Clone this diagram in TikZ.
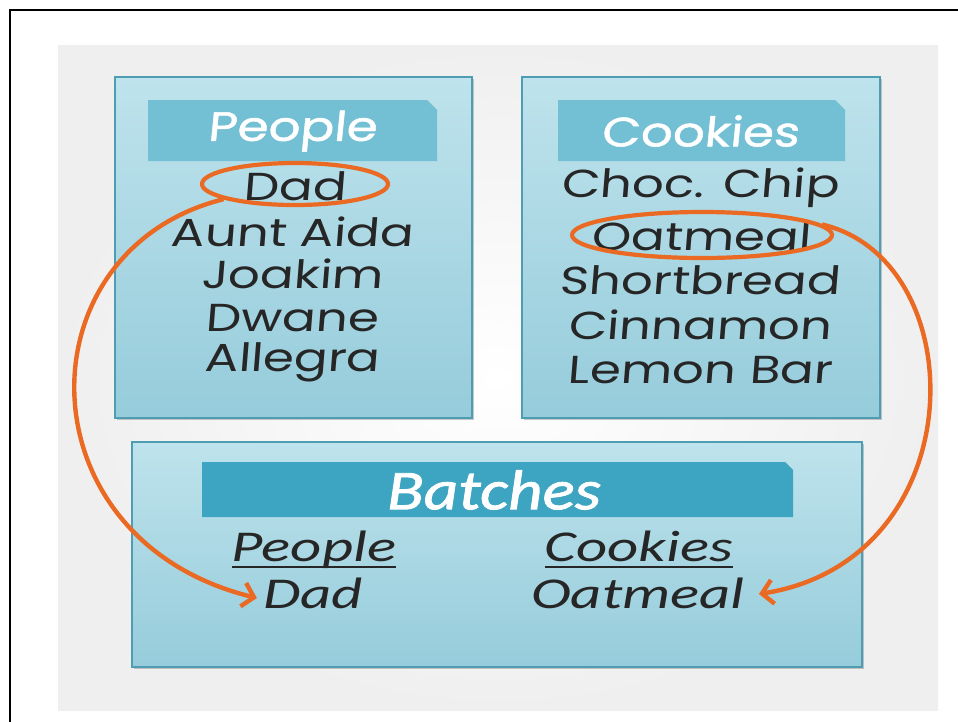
\documentclass[tikz,border=0pt]{standalone}
\usepackage{fontspec}
\setmainfont{Poppins}
\newfontfamily\hand[FakeStretch=1.28,FakeSlant=0.08]{Poppins}
\newfontfamily\handb[FakeStretch=1.22,FakeSlant=0.1,FakeBold=1.2]{Poppins}
\newfontfamily\sketch[FakeStretch=1.38]{Carlito}
\newfontfamily\sketchb[FakeStretch=1.2,FakeBold=1.5]{Carlito}
\usetikzlibrary{shapes.geometric,arrows.meta,shadows}
\definecolor{bgray}{HTML}{EFEFEF}
\definecolor{boxtop}{HTML}{BEE3EC}
\definecolor{boxbot}{HTML}{96CCDB}
\definecolor{boxline}{HTML}{4F9DB3}
\definecolor{hdrtop}{HTML}{73BFD4}
\definecolor{hdrbat}{HTML}{3DA4C1}
\definecolor{orng}{HTML}{EA6A23}
\definecolor{ink}{HTML}{262626}
\tikzset{
  panel/.style={draw=boxline, line width=1.2pt, top color=boxtop, bottom color=boxbot,
    drop shadow={shadow xshift=2pt, shadow yshift=-2pt, opacity=0.35, fill=black!60}},
  listtxt/.style={text=ink, font=\hand\fontsize{39}{39}\selectfont, inner sep=0pt},
  hdrtxt/.style={text=white, font=\handb\fontsize{41}{41}\selectfont, inner sep=0pt},
  battxt/.style={text=ink, font=\sketch\itshape\fontsize{44}{44}\selectfont, inner sep=0pt, anchor=base},
  uline/.style={draw=ink, line width=1.8pt},
  ring/.style={draw=orng, line width=4.2pt, ellipse, inner sep=0pt},
  link/.style={draw=orng, line width=4.4pt, -{Straight Barb[length=11pt,width=24pt,line width=4.4pt]}}
}
\begin{document}
\begin{tikzpicture}[x=1pt,y=-1pt]
\useasboundingbox (0,0) rectangle (958,721);
\fill[white] (0,0) rectangle (958,721);
% background
\shade[inner color=white, outer color=bgray] (58,45) rectangle (938,710);
% outer frame
\draw[black, line width=2.2pt] (10,725) -- (10,10) -- (962,10);
% panels
\path[panel] (115,77) rectangle (472,418);
\path[panel] (522,77) rectangle (880,418);
\path[panel] (132,442) rectangle (862,667);
% header bars with clipped corner
\fill[hdrtop] (148,100) -- (427,100) -- (437,110) -- (437,161) -- (148,161) -- cycle;
\fill[hdrtop] (558,100) -- (835,100) -- (845,110) -- (845,161) -- (558,161) -- cycle;
\fill[hdrbat] (202,462) -- (785,462) -- (793,470) -- (793,517) -- (202,517) -- cycle;
% header texts
\node[hdrtxt] (hpeople) at (292,131) {People};
\node[hdrtxt] (hcookies) at (700,131) {Cookies};
\node[text=white, font=\sketchb\itshape\fontsize{56}{56}\selectfont, inner sep=0pt] (hbatches) at (494,490) {Batches};
% people list
\node[listtxt] (pdad) at (295,186) {Dad};
\node[listtxt] (paida) at (292,232) {Aunt Aida};
\node[listtxt] (pjoakim) at (292,274) {Joakim};
\node[listtxt] (pdwane) at (292,318) {Dwane};
\node[listtxt] (pallegra) at (292,362) {Allegra};
% cookies list
\node[listtxt] (cchoc) at (700,188) {Choc. Chip};
\node[listtxt] (coat) at (701,236) {Oatmeal};
\node[listtxt] (cshort) at (700,280) {Shortbread};
\node[listtxt] (ccinn) at (700,325) {Cinnamon};
\node[listtxt] (clemon) at (700,370) {Lemon Bar};
% batches columns
\node[battxt] (bpeople) at (314,561) {People};
\node[battxt] (bdad) at (313,608) {Dad};
\node[battxt] (bcookies) at (639,561) {Cookies};
\node[battxt] (boat) at (638,608) {Oatmeal};
\draw[uline] ([yshift=-6pt]bpeople.base west) -- ([yshift=-6pt]bpeople.base east);
\draw[uline] ([yshift=-6pt]bcookies.base west) -- ([yshift=-6pt]bcookies.base east);
% rings
\node[ring, minimum width=186pt, minimum height=42pt] (rdad) at (295,184) {};
\node[ring, minimum width=260pt, minimum height=46pt] (roat) at (702,235) {};
% arrows
\draw[link] (rdad.192) .. controls (20,250) and (20,540) .. ([xshift=-6pt,yshift=10pt]bdad.base west);
\draw[link] (roat.5) .. controls (975,260) and (975,560) .. ([xshift=14pt,yshift=14pt]boat.base east);
\end{tikzpicture}
\end{document}
